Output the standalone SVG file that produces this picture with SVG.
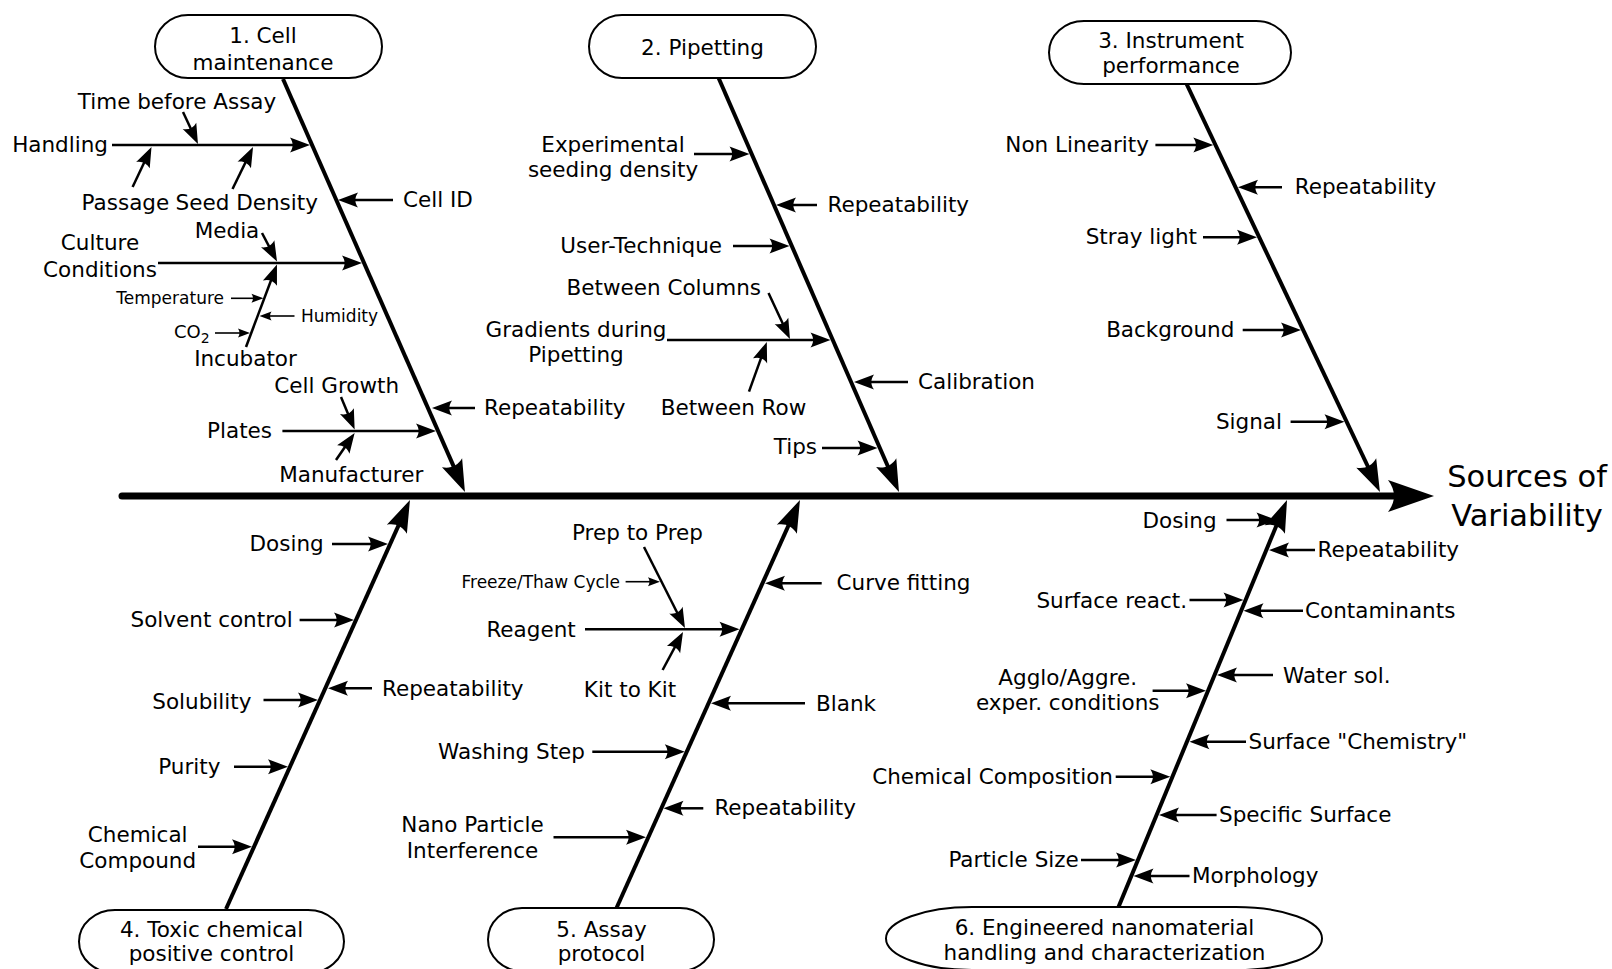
<svg xmlns="http://www.w3.org/2000/svg" width="1612" height="969" viewBox="0 0 1612 969">
<style>
text{font-family:"DejaVu Sans","Liberation Sans",sans-serif;font-size:21.5px;fill:#000}
.s{font-size:17px}
.m{text-anchor:middle}
.e{text-anchor:end}
.big{font-size:30.5px}
.pill{fill:#fff;stroke:#000;stroke-width:2}
.spine{stroke:#000;stroke-width:7;stroke-linecap:round;fill:none;marker-end:url(#asp)}
.bone{stroke:#000;stroke-width:4;fill:none;marker-end:url(#ab)}
.a{stroke:#000;stroke-width:2.5;fill:none;marker-end:url(#am)}
.as{stroke:#000;stroke-width:1.6;fill:none;marker-end:url(#as)}
</style>
<defs>
<marker id="asp" markerUnits="userSpaceOnUse" orient="auto" refX="20" refY="0" markerWidth="46" markerHeight="32" overflow="visible"><path d="M46,0 L0,-16 C8,-5 8,5 0,16 Z"/></marker>
<marker id="ab" markerUnits="userSpaceOnUse" orient="auto" refX="16" refY="0" markerWidth="32" markerHeight="22" overflow="visible"><path d="M32,0 L0,-11 C5,-4 5,4 0,11 Z"/></marker>
<marker id="am" markerUnits="userSpaceOnUse" orient="auto" refX="9" refY="0" markerWidth="20" markerHeight="15" overflow="visible"><path d="M20,0 L0,-7.5 C3.5,-2.5 3.5,2.5 0,7.5 Z"/></marker>
<marker id="as" markerUnits="userSpaceOnUse" orient="auto" refX="6" refY="0" markerWidth="12" markerHeight="9" overflow="visible"><path d="M12,0 L0,-4.5 C2,-1.5 2,1.5 0,4.5 Z"/></marker>
</defs>
<rect width="1612" height="969" fill="#fff"/>

<g id="connectors">
<path class="spine" d="M122,496 L1408,496"/>
<path class="bone" d="M283,79 L458.5,477.4"/>
<path class="bone" d="M718.6,78 L892.6,477.3"/>
<path class="bone" d="M1186.6,84 L1373.1,477.5"/>
<path class="bone" d="M226,909 L403.4,514.6"/>
<path class="bone" d="M616.5,908 L793.4,514.6"/>
<path class="bone" d="M1118.5,907 L1280.9,514.8"/>
<!-- group 1 -->
<path class="a" d="M112,145 L299,145"/>
<path class="a" d="M183,112 L193.3,134"/>
<path class="a" d="M132.6,187 L146.8,157"/>
<path class="a" d="M232.5,189 L248.2,156.9"/>
<path class="a" d="M393,200 L349,200"/>
<path class="a" d="M158,263 L351,263"/>
<path class="a" d="M262,233 L271.9,251.8"/>
<path class="a" d="M246,347 L273.1,274.8"/>
<path class="as" d="M231,298.3 L257.5,298.3"/>
<path class="as" d="M294.5,316 L265.5,316"/>
<path class="as" d="M215,333 L244,333"/>
<path class="a" d="M341,397 L350.4,419.4"/>
<path class="a" d="M282.4,431 L425,431"/>
<path class="a" d="M336,460 L348.4,442"/>
<path class="a" d="M475,408 L443,408"/>
<!-- group 2 -->
<path class="a" d="M694,154 L738.5,154"/>
<path class="a" d="M817,205 L787,205"/>
<path class="a" d="M733,246 L778.5,246"/>
<path class="a" d="M667,340 L819.5,340"/>
<path class="a" d="M768.5,293 L785.3,329"/>
<path class="a" d="M749,391.7 L763.1,352.4"/>
<path class="a" d="M908,382 L865,382"/>
<path class="a" d="M822,448 L866.5,448"/>
<!-- group 3 -->
<path class="a" d="M1155.4,145 L1202.3,145"/>
<path class="a" d="M1282,187.3 L1249,187.3"/>
<path class="a" d="M1203,237.3 L1246,237.3"/>
<path class="a" d="M1242.7,330 L1290,330"/>
<path class="a" d="M1290.6,421.7 L1333.5,421.7"/>
<!-- group 4 -->
<path class="a" d="M332,544 L377,544"/>
<path class="a" d="M299.6,620 L343,620"/>
<path class="a" d="M372,688.3 L339,688.3"/>
<path class="a" d="M263.5,700 L307,700"/>
<path class="a" d="M234,766.7 L277,766.7"/>
<path class="a" d="M198,846.7 L241,846.7"/>
<!-- group 5 -->
<path class="a" d="M644,547 L680,618.2"/>
<path class="as" d="M625.6,581.7 L654,581.7"/>
<path class="a" d="M585,629.3 L728.5,629.3"/>
<path class="a" d="M662.6,670 L677.8,641.7"/>
<path class="a" d="M821.7,583.3 L776,583.3"/>
<path class="a" d="M805,703.3 L722,703.3"/>
<path class="a" d="M592.3,751.7 L673.8,751.7"/>
<path class="a" d="M703.3,808.3 L674.5,808.3"/>
<path class="a" d="M553.5,837.3 L635,837.3"/>
<!-- group 6 -->
<path class="a" d="M1226.5,520 L1265.5,520"/>
<path class="a" d="M1315,550 L1280,550"/>
<path class="a" d="M1189.5,600 L1232.5,600"/>
<path class="a" d="M1303,610.7 L1254.5,610.7"/>
<path class="a" d="M1273,675 L1228,675"/>
<path class="a" d="M1152.6,690.7 L1195,690.7"/>
<path class="a" d="M1246,741.7 L1200.5,741.7"/>
<path class="a" d="M1115.7,776.7 L1159.3,776.7"/>
<path class="a" d="M1216.6,815 L1170,815"/>
<path class="a" d="M1081,860 L1125,860"/>
<path class="a" d="M1189.5,876 L1144.5,876"/>
</g>

<g id="cat-cell-maintenance">
<rect class="pill" x="155" y="15" width="227" height="63" rx="33" ry="31.5"/>
<text x="263" y="43" class="m">1. Cell</text>
<text x="263" y="70" class="m">maintenance</text>
</g>
<g id="causes-cell-maintenance">
<text x="108" y="152" class="e">Handling</text>
<text x="177" y="109" class="m">Time before Assay</text>
<text x="81.6" y="210">Passage</text>
<text x="175.6" y="210">Seed Density</text>
<text x="403" y="207">Cell ID</text>
<text x="227" y="238" class="m">Media</text>
<text x="100" y="250" class="m">Culture</text>
<text x="100" y="277" class="m">Conditions</text>
<text x="224" y="304" class="s e">Temperature</text>
<text x="301" y="321.7" class="s">Humidity</text>
<text x="174" y="338" style="font-size:18px">CO<tspan dy="5" style="font-size:14px">2</tspan></text>
<text x="245.5" y="366" class="m">Incubator</text>
<text x="336.7" y="393" class="m">Cell Growth</text>
<text x="272" y="438" class="e">Plates</text>
<text x="351.3" y="482" class="m">Manufacturer</text>
<text x="484" y="415">Repeatability</text>
</g>

<g id="cat-pipetting">
<rect class="pill" x="589" y="15" width="227" height="63" rx="33" ry="31.5"/>
<text x="702.5" y="55" class="m">2. Pipetting</text>
</g>
<g id="causes-pipetting">
<text x="613" y="151.7" class="m">Experimental</text>
<text x="613" y="176.7" class="m">seeding density</text>
<text x="827.5" y="211.7">Repeatability</text>
<text x="722" y="253" class="e">User-Technique</text>
<text x="761" y="295" class="e">Between Columns</text>
<text x="576" y="337.3" class="m">Gradients during</text>
<text x="576" y="361.7" class="m">Pipetting</text>
<text x="733.5" y="415" class="m">Between Row</text>
<text x="918" y="389">Calibration</text>
<text x="817" y="454" class="e">Tips</text>
</g>

<g id="cat-instrument">
<rect class="pill" x="1049" y="21" width="242" height="63" rx="35" ry="31.5"/>
<text x="1171" y="48.3" class="m">3. Instrument</text>
<text x="1171" y="73" class="m">performance</text>
</g>
<g id="causes-instrument">
<text x="1149" y="152" class="e">Non Linearity</text>
<text x="1294.7" y="193.5">Repeatability</text>
<text x="1197" y="244" class="e">Stray light</text>
<text x="1234.4" y="337" class="e">Background</text>
<text x="1282" y="429" class="e">Signal</text>
</g>

<g id="cat-toxic">
<rect class="pill" x="79" y="910" width="265" height="63" rx="36" ry="31.5"/>
<text x="211.5" y="937" class="m">4. Toxic chemical</text>
<text x="211.5" y="961" class="m">positive control</text>
</g>
<g id="causes-toxic">
<text x="323.7" y="551" class="e">Dosing</text>
<text x="292.7" y="627.3" class="e">Solvent control</text>
<text x="382" y="696">Repeatability</text>
<text x="251.4" y="709" class="e">Solubility</text>
<text x="220.4" y="774" class="e">Purity</text>
<text x="137.7" y="841.7" class="m">Chemical</text>
<text x="137.7" y="868" class="m">Compound</text>
</g>

<g id="cat-assay">
<rect class="pill" x="488" y="908" width="226" height="63" rx="34" ry="31.5"/>
<text x="601.5" y="937" class="m">5. Assay</text>
<text x="601.5" y="961" class="m">protocol</text>
</g>
<g id="causes-assay">
<text x="637.5" y="540" class="m">Prep to Prep</text>
<text x="620" y="588" class="s e">Freeze/Thaw Cycle</text>
<text x="575.7" y="636.7" class="e">Reagent</text>
<text x="630" y="696.7" class="m">Kit to Kit</text>
<text x="836.5" y="590">Curve fitting</text>
<text x="816" y="711">Blank</text>
<text x="585" y="759" class="e">Washing Step</text>
<text x="714.4" y="815">Repeatability</text>
<text x="472.5" y="831.7" class="m">Nano Particle</text>
<text x="472.5" y="858" class="m">Interference</text>
</g>

<g id="cat-nanomaterial">
<rect class="pill" x="886" y="907" width="436" height="63" rx="86" ry="31.5"/>
<text x="1104.5" y="935" class="m">6. Engineered nanomaterial</text>
<text x="1104.5" y="960" class="m">handling and characterization</text>
</g>
<g id="causes-nanomaterial">
<text x="1216.6" y="528" class="e">Dosing</text>
<text x="1317.5" y="557">Repeatability</text>
<text x="1187" y="607.5" class="e">Surface react.</text>
<text x="1305" y="618">Contaminants</text>
<text x="1283" y="682.5">Water sol.</text>
<text x="1067.7" y="685" class="m">Agglo/Aggre.</text>
<text x="1067.7" y="710" class="m">exper. conditions</text>
<text x="1248.6" y="748.5">Surface "Chemistry"</text>
<text x="1113" y="783.5" class="e">Chemical Composition</text>
<text x="1219" y="822">Specific Surface</text>
<text x="1078.8" y="867" class="e">Particle Size</text>
<text x="1192" y="883">Morphology</text>
</g>

<g id="effect">
<text x="1527" y="487" class="m big">Sources of</text>
<text x="1527" y="526" class="m big">Variability</text>
</g>
</svg>
